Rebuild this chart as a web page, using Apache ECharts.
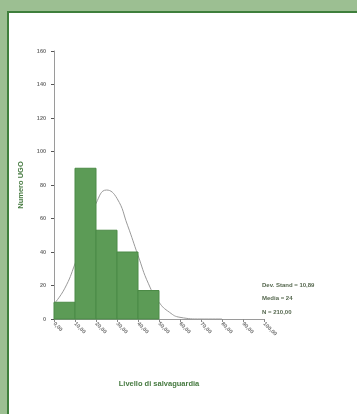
<!DOCTYPE html>
<html>
<head>
<meta charset="utf-8">
<script src="https://cdn.jsdelivr.net/npm/echarts@6/dist/echarts.min.js"></script>
<style>
  html, body { margin: 0; padding: 0; }
  body { width: 357px; height: 414px; background: #9cbf92; position: relative; overflow: hidden; }
  .panel { position: absolute; left: 7px; top: 11px; right: 0; bottom: 0; background: #fff;
           border-top: 2px solid #3f7f3c; border-left: 2px solid #3f7f3c; }
  #chart { position: absolute; left: 0; top: 0; width: 357px; height: 414px; }
</style>
</head>
<body>
<div class="panel"></div>
<div id="chart"></div>
<script>
// histogram bins (edges) and counts
const binStarts = [0, 10, 20, 30, 40];
const binEnds = [10, 20, 30, 40, 50];
const counts = [10, 90, 53, 40, 17];

// fitted normal curve
const curveX = [0, 5, 10, 15, 20, 25, 30, 35, 40, 45, 50, 55, 60, 70, 80];
const curveY = [9, 18, 33, 52, 69, 77, 72, 56, 38, 21, 10, 4, 1, 0, 0];

const xTicks = ['0,00', '10,00', '20,00', '30,00', '40,00', '50,00', '60,00', '70,00', '80,00', '90,00', '100,00'];
const statLines = ['Dev. Stand = 10,89', 'Media = 24', 'N = 210,00'];

const textCol = '#56684f';

const chart = echarts.init(document.getElementById('chart'));

const option = {
  animation: false,
  backgroundColor: 'transparent',
  grid: { left: 54, top: 51, width: 210, height: 268 },
  xAxis: {
    type: 'value',
    min: 0, max: 100, interval: 10,
    name: 'Livello di salvaguardia',
    nameLocation: 'middle',
    nameGap: 61,
    nameTextStyle: { color: '#467a40', fontSize: 7.5, fontWeight: 'bold', fontFamily: 'Liberation Sans' },
    splitLine: { show: false },
    axisLine: { lineStyle: { color: '#9a9a9a', width: 1 } },
    axisTick: { length: 3, lineStyle: { color: '#8a8a8a' } },
    axisLabel: {
      rotate: -45, fontSize: 5.5, fontWeight: 'bold', color: '#707070', margin: 4, fontFamily: 'Liberation Sans',
      formatter: (v) => xTicks[Math.round(v / 10)]
    }
  },
  yAxis: {
    type: 'value',
    min: 0, max: 160, interval: 20,
    name: 'Numero UGO',
    nameLocation: 'middle',
    nameGap: 29,
    nameTextStyle: { color: '#467a40', fontSize: 7.5, fontWeight: 'bold', fontFamily: 'Liberation Sans' },
    splitLine: { show: false },
    axisLine: { show: true, lineStyle: { color: '#9a9a9a', width: 1 } },
    axisTick: { show: true, length: 3, lineStyle: { color: '#555', width: 1 } },
    axisLabel: { fontSize: 5.5, fontWeight: 'bold', color: '#707070', margin: 8, fontFamily: 'Liberation Sans' }
  },
  series: [
    {
      type: 'line',
      z: 1,
      smooth: true,
      symbol: 'none',
      lineStyle: { color: '#9a9a9a', width: 1 },
      data: curveX.map((x, i) => [x, curveY[i]])
    },
    {
      type: 'custom',
      z: 2,
      data: counts.map((c, i) => [binStarts[i], binEnds[i], c]),
      renderItem: (params, api) => {
        const p0 = api.coord([api.value(0), api.value(2)]);
        const p1 = api.coord([api.value(1), 0]);
        return {
          type: 'rect',
          shape: { x: p0[0], y: p0[1], width: p1[0] - p0[0], height: p1[1] - p0[1] },
          style: { fill: '#5c9b56', stroke: '#4b8a46', lineWidth: 1 }
        };
      }
    }
  ],
  graphic: statLines.map((t, i) => ({
    type: 'text',
    left: 262,
    top: 282 + i * 13.5,
    style: { text: t, fill: textCol, font: 'bold 6px Liberation Sans' }
  }))
};

chart.setOption(option);
</script>
</body>
</html>
